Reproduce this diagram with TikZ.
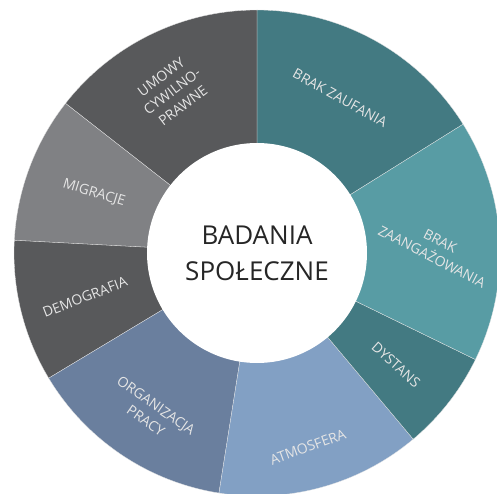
\documentclass[tikz,border=0pt]{standalone}
\usepackage{fontspec}
\setmainfont{Open Sans}
\definecolor{tealdark}{HTML}{437A82}
\definecolor{teallight}{HTML}{589CA4}
\definecolor{bluelight}{HTML}{82A0C4}
\definecolor{bluedark}{HTML}{6A7F9E}
\definecolor{greydark}{HTML}{58595B}
\definecolor{greymid}{HTML}{808184}
\tikzset{
  wedge/.style={draw=white!80!gray,line width=0.3pt},
  seglabel/.style={text=white!90!black,align=center,inner sep=0pt,
    font=\fontsize{14}{18}\selectfont},
}
\begin{document}
\begin{tikzpicture}[x=1pt,y=1pt]
 \useasboundingbox (-257,-240) rectangle (240,253);
 % ring segments, counter-clockwise from the top
 \filldraw[wedge,fill=tealdark]  (0,0)--(32:243) arc[start angle=32,end angle=90,radius=243pt]--cycle;
 \filldraw[wedge,fill=greydark]  (0,0)--(90:243) arc[start angle=90,end angle=142,radius=243pt]--cycle;
 \filldraw[wedge,fill=greymid]   (0,0)--(142:243) arc[start angle=142,end angle=177,radius=243pt]--cycle;
 \filldraw[wedge,fill=greydark]  (0,0)--(177:243) arc[start angle=177,end angle=211,radius=243pt]--cycle;
 \filldraw[wedge,fill=bluedark]  (0,0)--(211:243) arc[start angle=211,end angle=261,radius=243pt]--cycle;
 \filldraw[wedge,fill=bluelight] (0,0)--(261:243) arc[start angle=261,end angle=310,radius=243pt]--cycle;
 \filldraw[wedge,fill=tealdark]  (0,0)--(310:243) arc[start angle=310,end angle=334,radius=243pt]--cycle;
 \filldraw[wedge,fill=teallight] (0,0)--(334:243) arc[start angle=334,end angle=392,radius=243pt]--cycle;
 % hub
 \node[circle,fill=white,minimum size=220pt,inner sep=0pt,align=center,text=black!85,
   font=\fontsize{26}{36}\selectfont] (hub) at (0,0) {BADANIA\\SPOŁECZNE};
 % labels
 \node[seglabel,rotate=-29] (zaufanie) at (83,155) {BRAK ZAUFANIA};
 \node[seglabel,rotate=-27.5] (zaangazowanie) at (179,4) {BRAK\\ZAANGAŻOWANIA};
 \node[seglabel,rotate=-42] (dystans) at (139,-112) {DYSTANS};
 \node[seglabel,rotate=20] (atmosfera) at (51,-194) {ATMOSFERA};
 \node[seglabel,rotate=-35] (organizacja) at (-106,-160) {ORGANIZACJA\\PRACY};
 \node[seglabel,rotate=21] (demografia) at (-172,-44) {DEMOGRAFIA};
 \node[seglabel,rotate=-17] (migracje) at (-163,60) {MIGRACJE};
 \node[seglabel,rotate=37] (umowy) at (-85,162) {UMOWY\\CYWILNO-\\PRAWNE};
\end{tikzpicture}
\end{document}
